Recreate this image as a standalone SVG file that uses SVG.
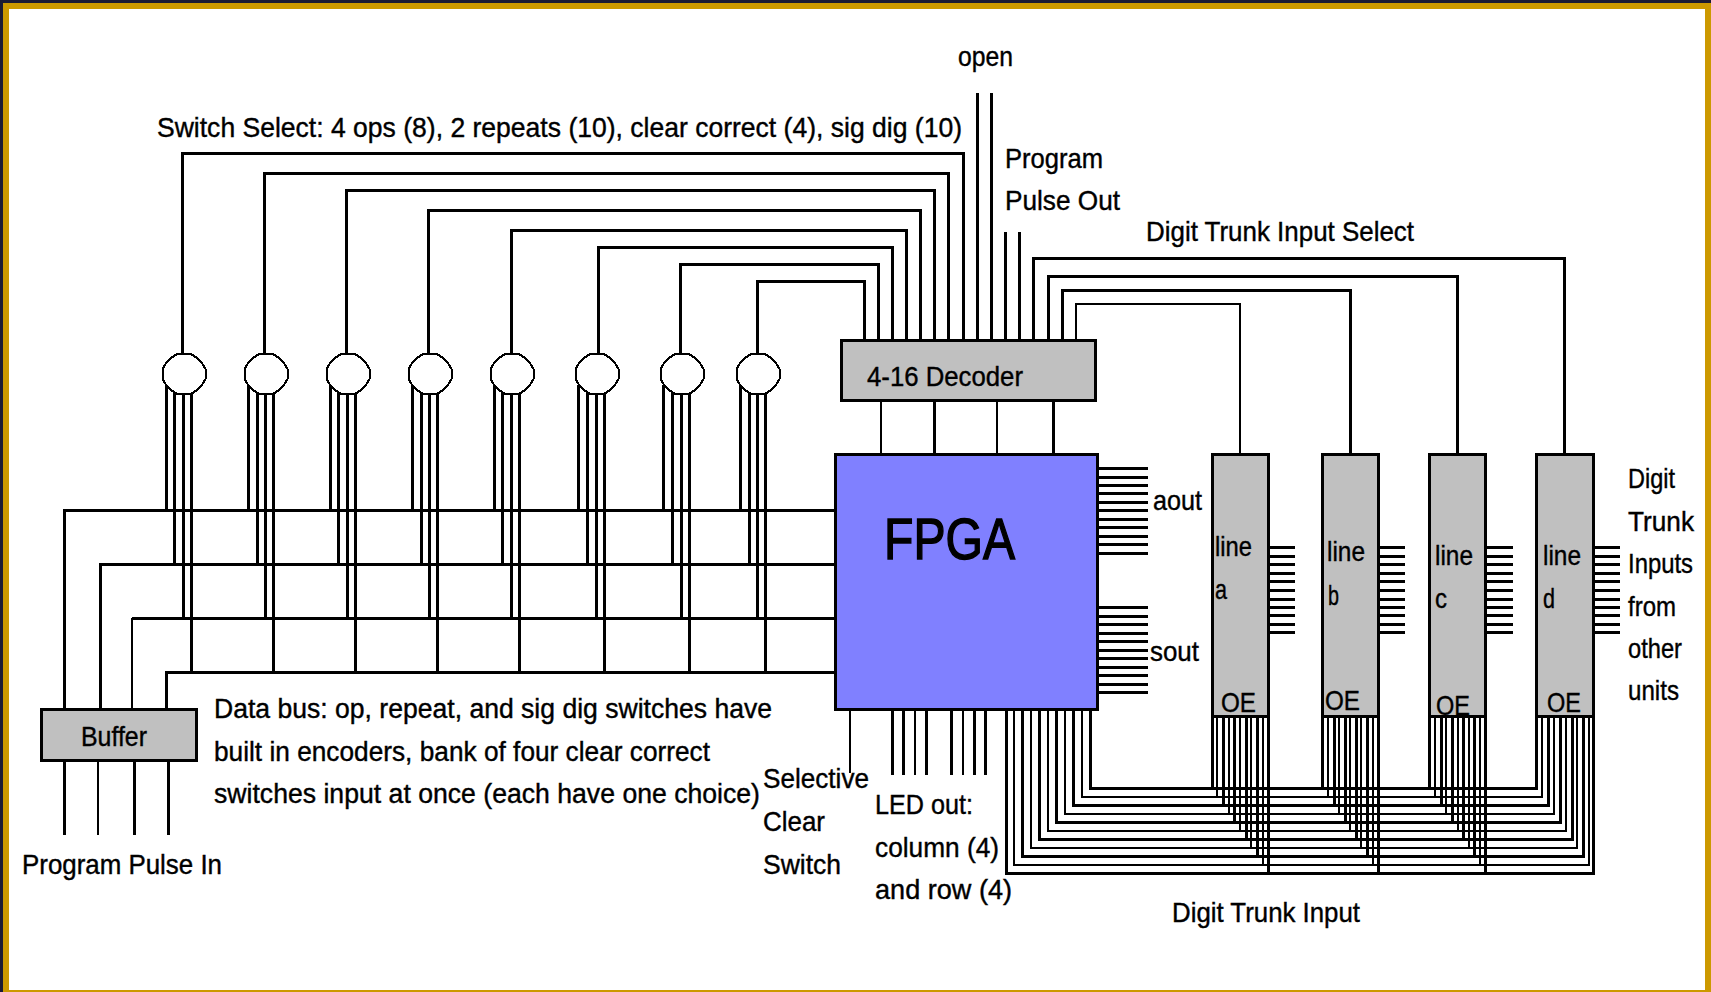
<svg xmlns="http://www.w3.org/2000/svg" width="1711" height="992" viewBox="0 0 1711 992">
<style>
.l3,.l2{fill:none;stroke:#000;shape-rendering:crispEdges}
.l3{stroke-width:3}.l2{stroke-width:2}
.box{fill:#c0c0c0;stroke:#000;stroke-width:3;shape-rendering:crispEdges}
.fpga{fill:#8080ff;stroke:#000;stroke-width:3;shape-rendering:crispEdges}
.sw{fill:#fff;stroke:#000;stroke-width:2;shape-rendering:crispEdges}
text{font-family:"Liberation Sans",Arial,sans-serif;font-size:28px;fill:#000;stroke:#000;stroke-width:.4}
.big{font-size:57px;stroke-width:1.4}
.note{font-size:27px}
</style>
<defs>
<polygon id="swShape" class="sw" points="-7,-20 7,-20 13,-16 18,-11 21.5,-5 21.5,5 18,11 13,16 7,20 -7,20 -13,16 -18,11 -21.5,5 -21.5,-5 -18,-11 -13,-16"/>
</defs>
<rect width="1711" height="992" fill="#cc9900"/>
<rect width="1711" height="3" fill="#1a1a33"/>
<rect width="3" height="992" fill="#1a1a33"/>
<rect x="9" y="9" width="1696" height="981" fill="#fff"/>
<g id="connectors">
<g id="switch-select">
<path class="l3" d="M182 354V153H963V340"/>
<path class="l3" d="M264 354V173H948V340"/>
<path class="l3" d="M346 354V190H934V340"/>
<path class="l3" d="M428 354V210H920V340"/>
<path class="l3" d="M511 354V230H906V340"/>
<path class="l3" d="M598 354V247H892V340"/>
<path class="l3" d="M680 354V264H878V340"/>
<path class="l3" d="M757 354V281H864V340"/>
</g>
<g id="top-stubs">
<path class="l3" d="M977 93V340M991 93V340M1005 232V340M1019 232V340"/>
</g>
<g id="trunk-select">
<path class="l3" d="M1033 340V258H1564V453"/>
<path class="l3" d="M1048 340V276H1457V453"/>
<path class="l3" d="M1062 340V290H1350V453"/>
<path class="l2" d="M1076 340V304H1240V453"/>
</g>
<g id="decoder-fpga">
<path class="l2" d="M881 402V453M997 402V453"/>
<path class="l3" d="M934 402V453M1053 402V453"/>
</g>
<g id="switch-legs">
<path class="l3" d="M166 385V510M248 385V510M330 385V510M412 385V510M494 385V510M578 385V510M663 385V510M740 385V510"/>
<path class="l3" d="M174 385V564M257 385V564M338 385V564M421 385V564M502 385V564M587 385V564M672 385V564M749 385V564"/>
<path class="l3" d="M183 385V618M265 385V618M347 385V618M429 385V618M511 385V618M596 385V618M681 385V618M757 385V618"/>
<path class="l3" d="M191 385V672M273 385V672M355 385V672M437 385V672M519 385V672M604 385V672M689 385V672M765 385V672"/>
</g>
<g id="data-bus">
<path class="l3" d="M64 709V510H836"/>
<path class="l3" d="M100 709V564H836"/>
<path class="l2" d="M132 709V618"/>
<path class="l3" d="M132 618H836"/>
<path class="l3" d="M166 709V672H836"/>
</g>
<g id="pulse-in">
<path class="l3" d="M64 762V835M134 762V835M168 762V835"/>
<path class="l2" d="M98 762V835"/>
</g>
<g id="selective">
<path class="l2" d="M850 710V773"/>
</g>
<g id="led-out">
<path class="l3" d="M892 710V775M903 710V775M926 710V775M951 710V775M974 710V775M985 710V775"/>
<path class="l2" d="M915 710V775M963 710V775"/>
</g>
<g id="trunk-input">
<path class="l3" d="M1090 709V788H1536V717M1212 717V788M1322 717V788M1429 717V788"/>
<path class="l2" d="M1082 709V797H1542V717M1217 717V797M1328 717V797M1435 717V797"/>
<path class="l3" d="M1073 709V805H1548V717M1223 717V805M1334 717V805M1441 717V805"/>
<path class="l2" d="M1065 709V814H1554V717M1229 717V814M1339 717V814M1446 717V814"/>
<path class="l3" d="M1056 709V822H1560V717M1234 717V822M1345 717V822M1452 717V822"/>
<path class="l2" d="M1048 709V831H1566V717M1240 717V831M1350 717V831M1458 717V831"/>
<path class="l3" d="M1039 709V839H1572V717M1246 717V839M1356 717V839M1463 717V839"/>
<path class="l2" d="M1031 709V848H1577V717M1251 717V848M1361 717V848M1469 717V848"/>
<path class="l3" d="M1022 709V856H1583V717M1257 717V856M1367 717V856M1474 717V856"/>
<path class="l2" d="M1014 709V865H1589V717M1263 717V865M1373 717V865M1480 717V865"/>
<path class="l3" d="M1006 709V873H1593V717M1268 717V873M1378 717V873M1485 717V873"/>
</g>
<g id="aout-stubs">
<path class="l3" d="M1099 468H1148M1099 477H1148M1099 485H1148M1099 493H1148M1099 502H1148M1099 510H1148M1099 519H1148M1099 527H1148M1099 536H1148M1099 544H1148M1099 553H1148"/>
</g>
<g id="sout-stubs">
<path class="l3" d="M1099 607H1148M1099 616H1148M1099 624H1148M1099 633H1148M1099 641H1148M1099 650H1148M1099 658H1148M1099 667H1148M1099 675H1148M1099 684H1148M1099 692H1148"/>
</g>
<g id="line-stubs">
<path class="l3" d="M1269 547H1295M1269 556H1295M1269 564H1295M1269 573H1295M1269 581H1295M1269 590H1295M1269 599H1295M1269 607H1295M1269 615H1295M1269 624H1295M1269 632H1295"/>
<path class="l3" d="M1379 547H1405M1379 556H1405M1379 564H1405M1379 573H1405M1379 581H1405M1379 590H1405M1379 599H1405M1379 607H1405M1379 615H1405M1379 624H1405M1379 632H1405"/>
<path class="l3" d="M1486 547H1513M1486 556H1513M1486 564H1513M1486 573H1513M1486 581H1513M1486 590H1513M1486 599H1513M1486 607H1513M1486 615H1513M1486 624H1513M1486 632H1513"/>
<path class="l3" d="M1594 547H1620M1594 556H1620M1594 564H1620M1594 573H1620M1594 581H1620M1594 590H1620M1594 599H1620M1594 607H1620M1594 615H1620M1594 624H1620M1594 632H1620"/>
</g>
</g>
<g id="sw1"><use href="#swShape" x="184" y="374"/></g>
<g id="sw2"><use href="#swShape" x="266" y="374"/></g>
<g id="sw3"><use href="#swShape" x="348" y="374"/></g>
<g id="sw4"><use href="#swShape" x="430" y="374"/></g>
<g id="sw5"><use href="#swShape" x="512" y="374"/></g>
<g id="sw6"><use href="#swShape" x="597" y="374"/></g>
<g id="sw7"><use href="#swShape" x="682" y="374"/></g>
<g id="sw8"><use href="#swShape" x="758" y="374"/></g>
<g id="decoder"><rect class="box" x="841.5" y="340.5" width="254" height="60"/><text x="867" y="386" textLength="156" lengthAdjust="spacingAndGlyphs">4-16 Decoder</text></g>
<g id="fpga"><rect class="fpga" x="835.5" y="454.5" width="262" height="254.5"/><text class="big" x="884" y="559" textLength="131" lengthAdjust="spacingAndGlyphs">FPGA</text></g>
<g id="buffer"><rect class="box" x="41.5" y="709.5" width="155" height="51"/><text x="81" y="746" textLength="66" lengthAdjust="spacingAndGlyphs">Buffer</text></g>
<g id="line-a"><rect class="box" x="1212.5" y="454.5" width="56" height="262"/><text x="1215" y="556" textLength="37" lengthAdjust="spacingAndGlyphs">line</text><text x="1215" y="599" textLength="12" lengthAdjust="spacingAndGlyphs">a</text><text x="1221" y="712" textLength="35" lengthAdjust="spacingAndGlyphs">OE</text></g>
<g id="line-b"><rect class="box" x="1322.5" y="454.5" width="56" height="262"/><text x="1327" y="561" textLength="38" lengthAdjust="spacingAndGlyphs">line</text><text x="1328" y="605" textLength="11" lengthAdjust="spacingAndGlyphs">b</text><text x="1325" y="710" textLength="35" lengthAdjust="spacingAndGlyphs">OE</text></g>
<g id="line-c"><rect class="box" x="1429.5" y="454.5" width="56" height="262"/><text x="1435" y="565" textLength="38" lengthAdjust="spacingAndGlyphs">line</text><text x="1435" y="608" textLength="12" lengthAdjust="spacingAndGlyphs">c</text><text x="1436" y="715" textLength="34" lengthAdjust="spacingAndGlyphs">OE</text></g>
<g id="line-d"><rect class="box" x="1536.5" y="454.5" width="57" height="262"/><text x="1543" y="565" textLength="38" lengthAdjust="spacingAndGlyphs">line</text><text x="1543" y="608" textLength="12" lengthAdjust="spacingAndGlyphs">d</text><text x="1547" y="712" textLength="34" lengthAdjust="spacingAndGlyphs">OE</text></g>
<g id="labels">
<text x="157" y="137" textLength="805" lengthAdjust="spacingAndGlyphs">Switch Select: 4 ops (8), 2 repeats (10), clear correct (4), sig dig (10)</text>
<text x="958" y="66" textLength="55" lengthAdjust="spacingAndGlyphs">open</text>
<text x="1005" y="168" textLength="98" lengthAdjust="spacingAndGlyphs">Program</text>
<text x="1005" y="210" textLength="115" lengthAdjust="spacingAndGlyphs">Pulse Out</text>
<text x="1146" y="241" textLength="268" lengthAdjust="spacingAndGlyphs">Digit Trunk Input Select</text>
<text x="1153" y="510" textLength="49" lengthAdjust="spacingAndGlyphs">aout</text>
<text x="1150" y="661" textLength="49" lengthAdjust="spacingAndGlyphs">sout</text>
<text x="1628" y="488" textLength="47" lengthAdjust="spacingAndGlyphs">Digit</text>
<text x="1628" y="531" textLength="66" lengthAdjust="spacingAndGlyphs">Trunk</text>
<text x="1628" y="573" textLength="65" lengthAdjust="spacingAndGlyphs">Inputs</text>
<text x="1628" y="616" textLength="48" lengthAdjust="spacingAndGlyphs">from</text>
<text x="1628" y="658" textLength="54" lengthAdjust="spacingAndGlyphs">other</text>
<text x="1628" y="700" textLength="51" lengthAdjust="spacingAndGlyphs">units</text>
<text class="note" x="214" y="718" textLength="558" lengthAdjust="spacingAndGlyphs">Data bus: op, repeat, and sig dig switches have</text>
<text class="note" x="214" y="761" textLength="496" lengthAdjust="spacingAndGlyphs">built in encoders, bank of four clear correct</text>
<text class="note" x="214" y="803" textLength="546" lengthAdjust="spacingAndGlyphs">switches input at once (each have one choice)</text>
<text x="763" y="788" textLength="106" lengthAdjust="spacingAndGlyphs">Selective</text>
<text x="763" y="831" textLength="62" lengthAdjust="spacingAndGlyphs">Clear</text>
<text x="763" y="874" textLength="78" lengthAdjust="spacingAndGlyphs">Switch</text>
<text x="22" y="874" textLength="200" lengthAdjust="spacingAndGlyphs">Program Pulse In</text>
<text x="875" y="814" textLength="98" lengthAdjust="spacingAndGlyphs">LED out:</text>
<text x="875" y="857" textLength="124" lengthAdjust="spacingAndGlyphs">column (4)</text>
<text x="875" y="899" textLength="137" lengthAdjust="spacingAndGlyphs">and row (4)</text>
<text x="1172" y="922" textLength="188" lengthAdjust="spacingAndGlyphs">Digit Trunk Input</text>
</g>
</svg>
